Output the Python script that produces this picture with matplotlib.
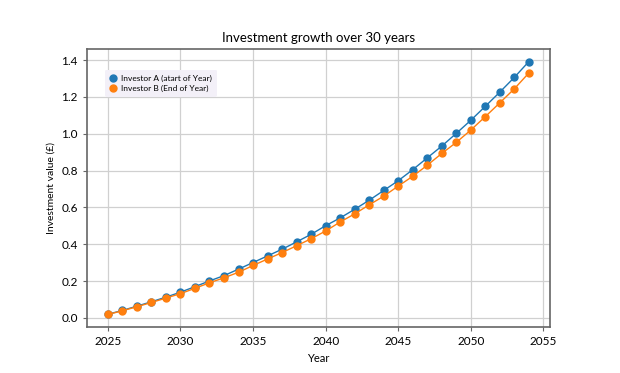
import matplotlib
matplotlib.use("Agg")
import matplotlib.pyplot as plt

years = list(range(2025, 2055))
investor_a = [0.020, 0.041, 0.064, 0.088, 0.113, 0.140, 0.170, 0.201, 0.230, 0.265,
              0.301, 0.337, 0.373, 0.413, 0.454, 0.501, 0.543, 0.590, 0.639, 0.692,
              0.745, 0.805, 0.869, 0.933, 1.002, 1.073, 1.149, 1.226, 1.306, 1.392]
investor_b = [0.019, 0.039, 0.061, 0.084, 0.108, 0.132, 0.161, 0.191, 0.218, 0.248,
              0.285, 0.320, 0.355, 0.392, 0.430, 0.472, 0.521, 0.565, 0.614, 0.661,
              0.716, 0.769, 0.829, 0.893, 0.953, 1.020, 1.093, 1.168, 1.244, 1.330]
label_a = "Investor A (atart of Year)"
label_b = "Investor B (End of Year)"

plt.rcParams['font.family'] = ['Lato', 'DejaVu Sans']

fig = plt.figure(figsize=(6.2, 3.73), dpi=100)
ax = fig.add_axes([0.140, 0.123, 0.747, 0.746])

ax.plot(years, investor_a, marker='o', markersize=5, linewidth=1, color='#1f77b4', label=label_a)
ax.plot(years, investor_b, marker='o', markersize=5, linewidth=1, color='#ff7f0e', label=label_b)

ax.set_xticks([2025, 2030, 2035, 2040, 2045, 2050, 2055])
ax.set_yticks([0.0, 0.2, 0.4, 0.6, 0.8, 1.0, 1.2, 1.4])
ax.grid(True, color='#d0d0d0', linewidth=0.9)
ax.set_axisbelow(True)
for s in ax.spines.values():
    s.set_color('#666666')
    s.set_linewidth(1.2)
ax.tick_params(labelsize=8.5, color='#666666', length=3)

ax.set_title("Investment growth over 30 years", fontsize=9.5, pad=5)
ax.set_xlabel("Year", fontsize=8)
ax.set_ylabel("Investment value (£)", fontsize=7.5)

leg = ax.legend(loc='upper left', fontsize=6, frameon=True, framealpha=1,
                bbox_to_anchor=(0.03, 0.94), handlelength=0.8, handletextpad=0.5,
                borderpad=0.6, labelspacing=0.3)
leg.get_frame().set_facecolor('#f3f0f8')
leg.get_frame().set_edgecolor('none')
for h in leg.legend_handles:
    h.set_linestyle('none')

fig.savefig("out.png", dpi=100)
